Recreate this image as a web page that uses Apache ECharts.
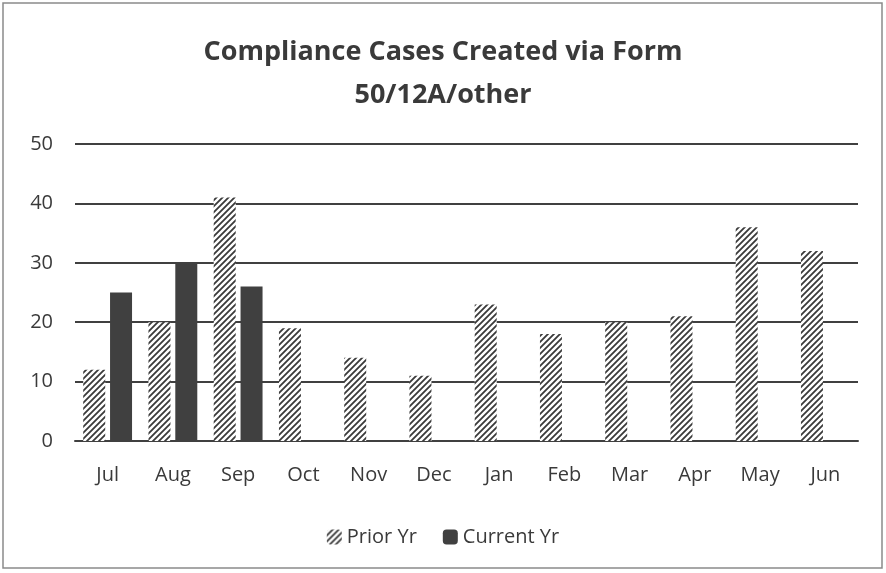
<!DOCTYPE html>
<html><head><meta charset="utf-8">
<script src="https://cdn.jsdelivr.net/npm/echarts@6/dist/echarts.min.js"></script>
<style>html,body{margin:0;padding:0;background:#fff}#c{width:886px;height:573px}</style>
</head><body><div id="c"></div>
<script>
const months = ['Jul','Aug','Sep','Oct','Nov','Dec','Jan','Feb','Mar','Apr','May','Jun'];
const priorYr = [12,20,41,19,14,11,23,18,20,21,36,32];
const currentYr = [25,30,26,null,null,null,null,null,null,null,null,null];
const yTicks = [0,10,20,30,40,50];

function hatch(){
  const c = document.createElement('canvas');
  c.width = 6; c.height = 6;
  const g = c.getContext('2d');
  g.fillStyle = '#fff'; g.fillRect(0,0,6,6);
  g.strokeStyle = '#3a3a3a'; g.lineWidth = 1.8;
  g.beginPath();
  g.moveTo(-1,7); g.lineTo(7,-1);
  g.moveTo(-4,4); g.lineTo(4,-4);
  g.moveTo(2,10); g.lineTo(10,2);
  g.stroke();
  return c;
}
const chart = echarts.init(document.getElementById('c'));
const font = '"Open Sans", "Noto Sans", sans-serif';
chart.setOption({
  animation:false,
  backgroundColor:'#fff',
  graphic:[{type:'rect',shape:{x:3,y:3,width:879,height:565},style:{fill:'none',stroke:'#8a8a8a',lineWidth:1.5}}],
  title:{text:'Compliance Cases Created via Form\n50/12A/other',left:'center',top:26,
    textStyle:{fontFamily:font,fontSize:27,fontWeight:'bold',color:'#3a3a3a',lineHeight:43}},
  grid:{left:75,right:28,top:144,bottom:132},
  legend:{bottom:21,left:'center',itemWidth:15,itemHeight:15,itemGap:26,
    textStyle:{fontFamily:font,fontSize:20,color:'#3a3a3a'},
    data:['Prior Yr','Current Yr']},
  xAxis:{type:'category',data:months,
    axisLine:{lineStyle:{color:'#404040',width:2}},axisTick:{show:false},
    axisLabel:{fontFamily:font,fontSize:20,color:'#3a3a3a',margin:24}},
  yAxis:{type:'value',min:0,max:50,interval:10,
    axisLine:{show:false},axisTick:{show:false},
    splitLine:{lineStyle:{color:'#404040',width:2}},
    axisLabel:{fontFamily:font,fontSize:20,color:'#3a3a3a',margin:22,
      formatter:v=>yTicks.includes(v)?String(v):''}},
  series:[
    {name:'Prior Yr',type:'bar',data:priorYr,barWidth:22,barGap:'22%',
      itemStyle:{color:{image:hatch(),repeat:'repeat'}}},
    {name:'Current Yr',type:'bar',data:currentYr,barWidth:22,
      itemStyle:{color:'#404040'}}
  ]
});
</script></body></html>
